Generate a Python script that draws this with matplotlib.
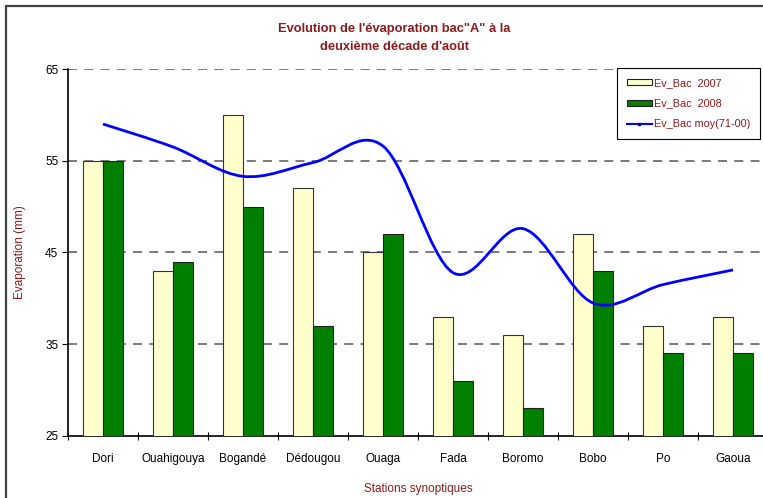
import matplotlib
matplotlib.use('Agg')
import matplotlib.pyplot as plt
from matplotlib.path import Path
from matplotlib.patches import PathPatch, Rectangle
from matplotlib.lines import Line2D
import numpy as np

plt.rcParams['font.family'] = ['Liberation Sans', 'DejaVu Sans']

# Data
stations = ['Dori', 'Ouahigouya', 'Bogandé', 'Dédougou', 'Ouaga',
            'Fada', 'Boromo', 'Bobo', 'Po', 'Gaoua']
bac_2007 = [55, 43, 60, 52, 45, 38, 36, 47, 37, 38]
bac_2008 = [55, 44, 50, 37, 47, 31, 28, 43, 34, 34]
bac_moy = [59.0, 56.5, 53.3, 54.8, 56.6, 42.8, 47.6, 39.5, 41.5, 43.1]

dark_red = '#8B1A1A'
W, H = 763, 498
fig = plt.figure(figsize=(W / 100, H / 100), dpi=100)
ax = fig.add_axes([68 / W, 62 / H, 700 / W, 367 / H])

x = np.arange(len(stations))
bw = 0.285
ax.bar(x - bw / 2, bac_2007, bw, color='#FFFFCC', edgecolor='#333333', linewidth=0.8, zorder=3)
ax.bar(x + bw / 2, bac_2008, bw, color='#008000', edgecolor='#222222', linewidth=0.8, zorder=3)

# smoothed line (Bezier through the points, like a spreadsheet smooth line)
pts = list(zip(x, bac_moy))
verts = [pts[0]]
codes = [Path.MOVETO]
for i in range(len(pts) - 1):
    p0 = np.array(pts[max(i - 1, 0)])
    p1 = np.array(pts[i])
    p2 = np.array(pts[i + 1])
    p3 = np.array(pts[min(i + 2, len(pts) - 1)])
    c1 = p1 + (p2 - p0) / 6
    c2 = p2 - (p3 - p1) / 6
    verts += [tuple(c1), tuple(c2), tuple(p2)]
    codes += [Path.CURVE4] * 3
ax.add_patch(PathPatch(Path(verts, codes), fill=False, edgecolor='#0000FF', lw=2, zorder=4))

ax.set_xlim(-0.5, len(stations) - 0.5)
ax.set_ylim(25, 65)
ax.set_yticks([25, 35, 45, 55, 65])
for v in [35, 45, 55, 65]:
    ax.axhline(v, color='#707070', lw=1.3, ls=(0, (5, 4)), zorder=1)

ax.set_xticks(x)
ax.set_xticklabels(stations)
ax.set_xticks(np.arange(-0.5, len(stations)), minor=True)
ax.tick_params(axis='x', which='major', length=0, pad=12, labelsize=8.5)
ax.tick_params(axis='x', which='minor', length=6, direction='inout', width=0.8)
ax.tick_params(axis='y', length=4, width=0.8, pad=3, labelsize=8.5)

for s in ['top', 'right']:
    ax.spines[s].set_visible(False)
ax.spines['left'].set_linewidth(1.2)
ax.spines['bottom'].set_linewidth(1.2)

ax.set_ylabel('Evaporation (mm)', color=dark_red, fontsize=8.5, labelpad=14)
ax.set_xlabel('Stations synoptiques', color=dark_red, fontsize=8.5, labelpad=13)
fig.text(394 / W, 1 - 38 / H, "Evolution de l'évaporation bac\"A\" à la\ndeuxième décade d'août",
         ha='center', va='center', fontsize=9.3, fontweight='bold', color=dark_red, linespacing=1.65)

handles = [
    Rectangle((0, 0), 1, 1, fc='#FFFFCC', ec='#222222', lw=0.8),
    Rectangle((0, 0), 1, 1, fc='#008000', ec='#222222', lw=0.8),
    Line2D([], [], color='#0000FF', lw=1.5, marker='s', markersize=1.5, markerfacecolor='#000080', markeredgecolor='#000080'),
]
labels = ['Ev_Bac  2007', 'Ev_Bac  2008', 'Ev_Bac moy(71-00)']
leg = fig.legend(handles, labels, loc='upper left', bbox_to_anchor=(617 / W, 1 - 68 / H),
                 fontsize=7.8, frameon=True, fancybox=False, edgecolor='black', framealpha=1,
                 handlelength=2.3, handleheight=0.5, handletextpad=0.25, labelspacing=1.0,
                 borderpad=0.9, borderaxespad=0)
leg.get_frame().set_linewidth(0.8)
for t in leg.get_texts():
    t.set_color(dark_red)

# outer chart border
fig.patches.append(Rectangle((6 / W, -0.1), 1.2, 1.1 - 6 / H, transform=fig.transFigure,
                             fill=False, lw=1.6, ec='#404040'))

fig.savefig('out.png', dpi=100)
